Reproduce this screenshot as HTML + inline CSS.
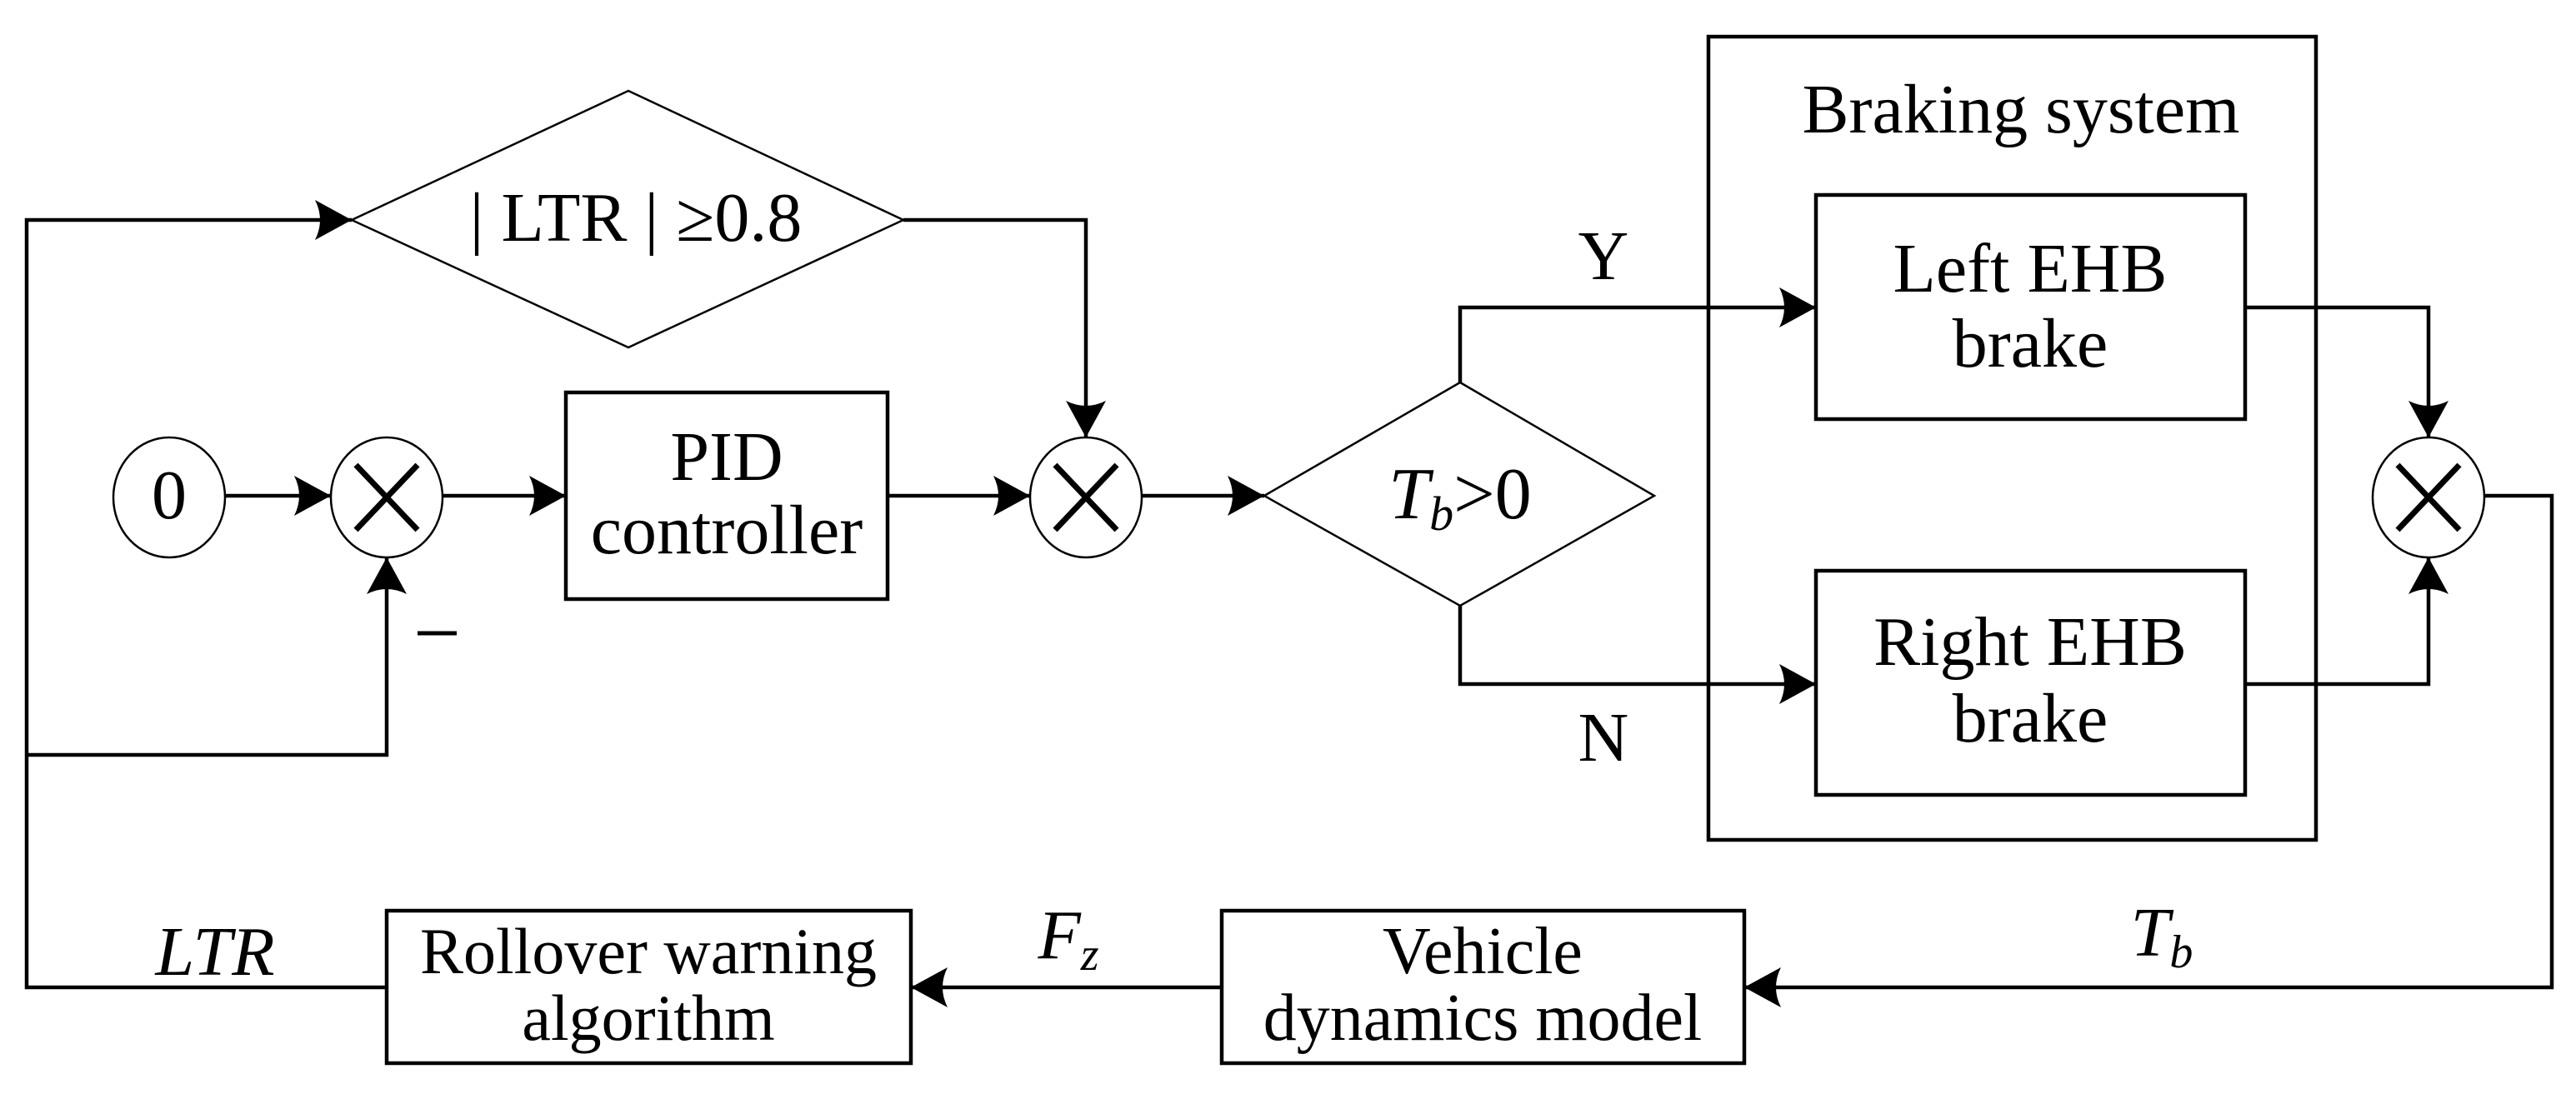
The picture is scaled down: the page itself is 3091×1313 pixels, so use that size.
<!DOCTYPE html>
<html><head><meta charset="utf-8"><style>html,body{margin:0;padding:0;background:#fff;overflow:hidden}svg{display:block}</style></head>
<body>
<svg width="3091" height="1313" viewBox="0 0 3091 1313" xmlns="http://www.w3.org/2000/svg" font-family="Liberation Serif, serif" font-size="84" text-anchor="middle">
<defs>
<marker id="a" markerWidth="44" markerHeight="48" refX="44" refY="24" orient="auto" markerUnits="userSpaceOnUse">
<path d="M0,0 L44,24 L0,48 Q12,24 0,0 Z" fill="#000"/>
</marker>
</defs>
<g fill="none" stroke="#000" stroke-width="4.5">
<polygon points="422,264 754,109 1084,264 754,417" stroke-width="2.5"/>
<polygon points="1517,595 1752,459 1985,595 1752,727" stroke-width="2.5"/>
<ellipse cx="203" cy="597" rx="67" ry="72" stroke-width="2.5"/>
<ellipse cx="464" cy="597" rx="67" ry="72" stroke-width="2.5"/>
<ellipse cx="1303" cy="597" rx="67" ry="72" stroke-width="2.5"/>
<ellipse cx="2914" cy="597" rx="67" ry="72" stroke-width="2.5"/>
<g stroke-width="7">
<path d="M427,558 L501,636 M501,558 L427,636"/>
<path d="M1266,558 L1340,636 M1340,558 L1266,636"/>
<path d="M2877,558 L2951,636 M2951,558 L2877,636"/>
</g>
<rect x="679" y="471" width="386" height="248"/>
<rect x="464" y="1093" width="629" height="183"/>
<rect x="1466" y="1093" width="627" height="183"/>
<rect x="2050" y="44" width="729" height="964"/>
<rect x="2179" y="234" width="515" height="269"/>
<rect x="2179" y="685" width="515" height="269"/>
<path d="M464,1185 L32,1185 L32,264 L422,264" marker-end="url(#a)"/>
<path d="M1084,264 L1303,264 L1303,525" marker-end="url(#a)"/>
<path d="M32,906 L464,906 L464,669" marker-end="url(#a)"/>
<path d="M270,595 L397,595" marker-end="url(#a)"/>
<path d="M531,595 L679,595" marker-end="url(#a)"/>
<path d="M1065,595 L1236,595" marker-end="url(#a)"/>
<path d="M1370,595 L1517,595" marker-end="url(#a)"/>
<path d="M1752,459 L1752,369 L2179,369" marker-end="url(#a)"/>
<path d="M1752,727 L1752,821 L2179,821" marker-end="url(#a)"/>
<path d="M2694,369 L2914,369 L2914,525" marker-end="url(#a)"/>
<path d="M2694,821 L2914,821 L2914,669" marker-end="url(#a)"/>
<path d="M2981,595 L3062,595 L3062,1185 L2093,1185" marker-end="url(#a)"/>
<path d="M1466,1185 L1093,1185" marker-end="url(#a)"/>
<path d="M501,760 L548,760" stroke-width="5"/>
</g>
<g fill="#000">
<text x="763" y="289">| LTR | ≥0.8</text>
<text x="203" y="622">0</text>
<text x="872" y="576">PID</text>
<text x="872" y="664">controller</text>
<text x="778" y="1168" font-size="78">Rollover warning</text>
<text x="778" y="1248" font-size="78">algorithm</text>
<text x="1779" y="1168" font-size="80">Vehicle</text>
<text x="1779" y="1248" font-size="80">dynamics model</text>
<text x="2425" y="159">Braking system</text>
<text x="2436" y="350">Left EHB</text>
<text x="2436" y="440">brake</text>
<text x="2436" y="798">Right EHB</text>
<text x="2436" y="890">brake</text>
<text x="1924" y="335">Y</text>
<text x="1924" y="913">N</text>
<text x="258" y="1170" font-style="italic">LTR</text>
<text x="1282" y="1150" font-style="italic">F<tspan font-size="56" dy="14">z</tspan></text>
<text x="2594" y="1147" font-style="italic">T<tspan font-size="56" dy="14">b</tspan></text>
<text x="1752" y="622" font-size="88"><tspan font-style="italic">T</tspan><tspan font-style="italic" font-size="58" dy="14">b</tspan><tspan dy="-14">&gt;0</tspan></text>
</g>
</svg>
</body></html>
